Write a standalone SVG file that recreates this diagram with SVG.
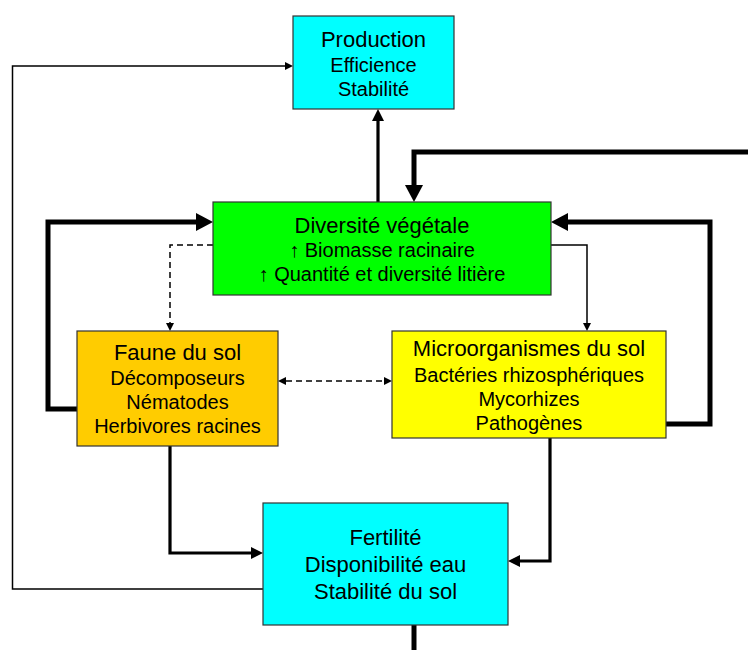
<svg xmlns="http://www.w3.org/2000/svg" width="748" height="650" viewBox="0 0 748 650">
<style>
.box{stroke:#333;stroke-width:1.2}
.t{font-family:"Liberation Sans",Arial,sans-serif;fill:#000;text-anchor:middle}
.h{font-size:22px}
.s{font-size:20px}
.c{fill:none;stroke:#000;stroke-linejoin:miter}
.w5{stroke-width:5}
.w3{stroke-width:3.2}
.w1{stroke-width:1.5}
.d{stroke-dasharray:6,4}
</style>
<defs>
<marker id="hL" markerUnits="userSpaceOnUse" markerWidth="17" markerHeight="18" refX="0" refY="9" orient="auto"><path d="M0,0 L17,9 L0,18 z" fill="#000"/></marker>
<marker id="hM" markerUnits="userSpaceOnUse" markerWidth="12" markerHeight="12" refX="0" refY="6" orient="auto"><path d="M0,0 L12,6 L0,12 z" fill="#000"/></marker>
<marker id="hS" markerUnits="userSpaceOnUse" markerWidth="8" markerHeight="8" refX="0" refY="4" orient="auto"><path d="M0,0 L8,4 L0,8 z" fill="#000"/></marker>
<marker id="hSs" markerUnits="userSpaceOnUse" markerWidth="8" markerHeight="8" refX="8" refY="4" orient="auto"><path d="M8,0 L0,4 L8,8 z" fill="#000"/></marker>
</defs>
<g id="connectors">
<path class="c w3" d="M378,202 L378,121" marker-end="url(#hM)"/>
<path class="c w5" d="M748,152 L414,152 L414,185" marker-end="url(#hL)"/>
<path class="c w5" d="M77,409 L48,409 L48,222 L196,222" marker-end="url(#hL)"/>
<path class="c w5" d="M666,424 L710,424 L710,222 L568,222" marker-end="url(#hL)"/>
<path class="c w1" d="M551,245 L587,245 L587,323" marker-end="url(#hS)"/>
<path class="c w1 d" d="M213,245 L170,245 L170,323" marker-end="url(#hS)"/>
<path class="c w1 d" d="M286,381 L384,381" marker-start="url(#hSs)" marker-end="url(#hS)"/>
<path class="c w3" d="M170,446 L170,553 L251,553" marker-end="url(#hM)"/>
<path class="c w3" d="M550,438 L550,561 L520,561" marker-end="url(#hM)"/>
<path class="c w1" d="M263,589 L12.5,589 L12.5,66 L285,66" marker-end="url(#hS)"/>
<path class="c w5" d="M414,625 L414,650"/>
</g>
<g id="production">
<rect class="box" x="293" y="16" width="161" height="93" fill="#00FFFF"/>
<text class="t h" x="373.5" y="47">Production</text>
<text class="t s" x="373.5" y="72">Efficience</text>
<text class="t s" x="373.5" y="96">Stabilité</text>
</g>
<g id="diversite">
<rect class="box" x="213" y="202" width="338" height="93" fill="#00FF00"/>
<text class="t h" x="382" y="233">Diversité végétale</text>
<text class="t s" x="382" y="257">↑ Biomasse racinaire</text>
<text class="t s" x="382" y="281">↑ Quantité et diversité litière</text>
</g>
<g id="faune">
<rect class="box" x="77" y="331" width="201" height="115" fill="#FFCC00"/>
<text class="t h" x="177.5" y="360">Faune du sol</text>
<text class="t s" x="177.5" y="385">Décomposeurs</text>
<text class="t s" x="177.5" y="409">Nématodes</text>
<text class="t s" x="177.5" y="433">Herbivores racines</text>
</g>
<g id="micro">
<rect class="box" x="392" y="331" width="274" height="107" fill="#FFFF00"/>
<text class="t h" x="529" y="356">Microorganismes du sol</text>
<text class="t s" x="529" y="382">Bactéries rhizosphériques</text>
<text class="t s" x="529" y="406">Mycorhizes</text>
<text class="t s" x="529" y="430">Pathogènes</text>
</g>
<g id="fertilite">
<rect class="box" x="263" y="503" width="245" height="122" fill="#00FFFF"/>
<text class="t" style="font-size:22px" x="385.5" y="545">Fertilité</text>
<text class="t" style="font-size:22px" x="385.5" y="572">Disponibilité eau</text>
<text class="t" style="font-size:22px" x="385.5" y="599">Stabilité du sol</text>
</g>
</svg>
